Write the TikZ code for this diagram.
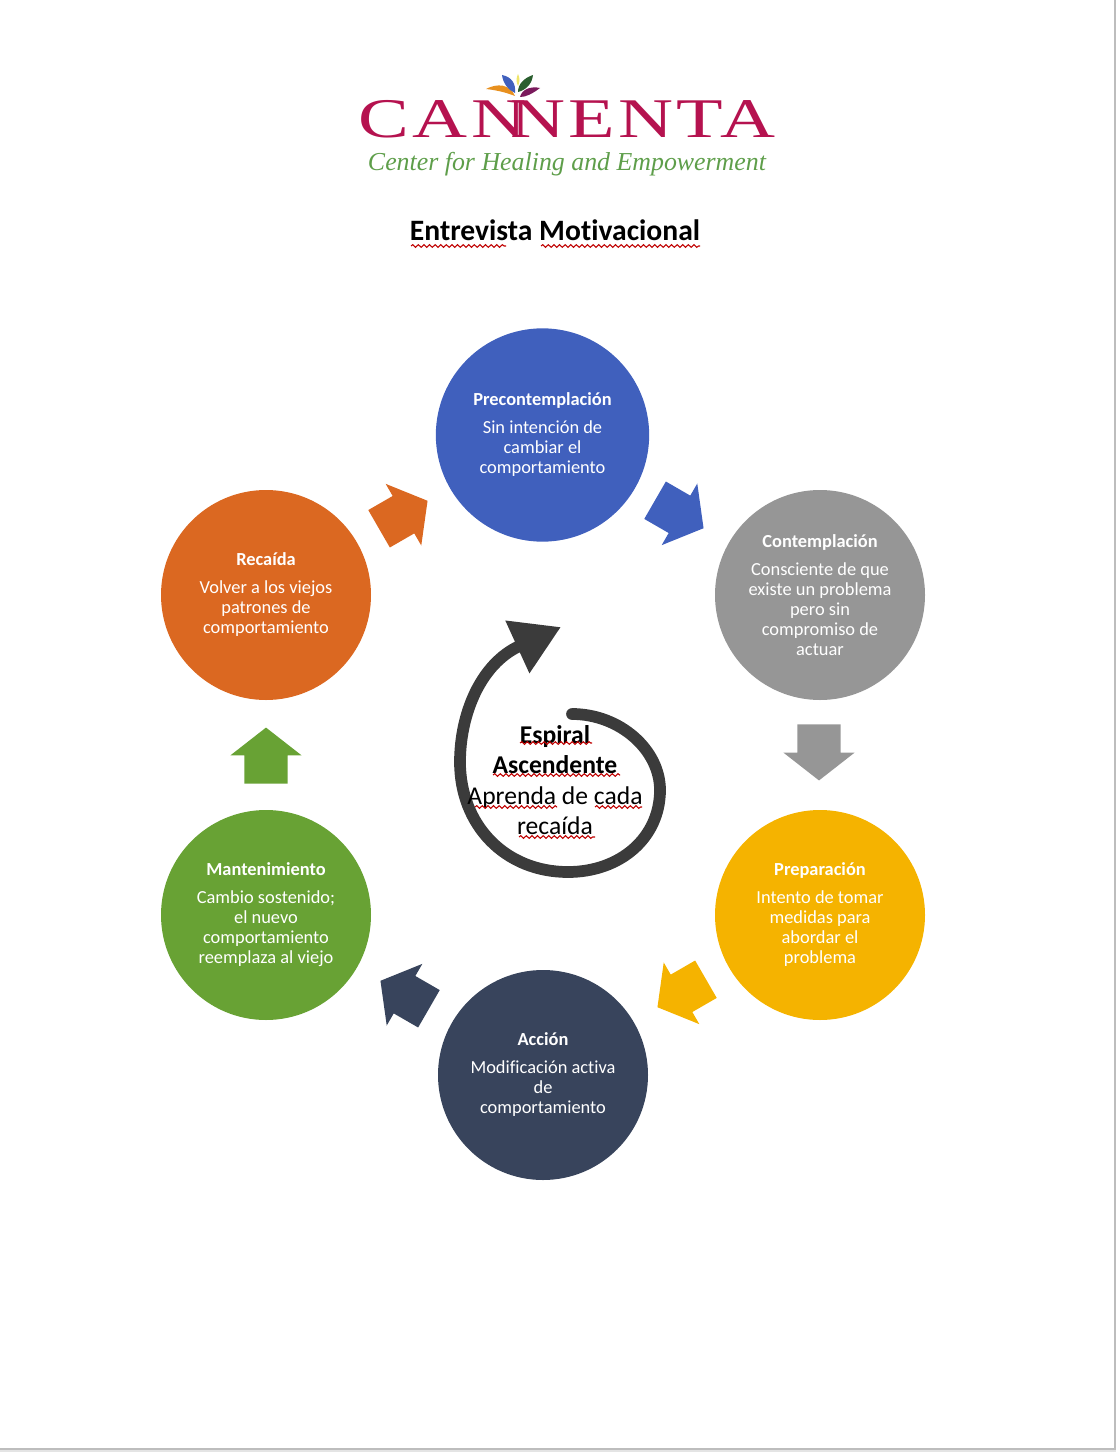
\documentclass[tikz,border=0pt]{standalone}
\usepackage{fontspec}
\usepackage{xcolor}
\usepackage{tikz}
\usetikzlibrary{shapes.arrows,arrows.meta,decorations.pathmorphing}
\setmainfont[RawFeature={-liga}]{Carlito}
\newfontfamily\logofont[FakeStretch=1.36,LetterSpace=6]{Liberation Serif}
\newfontfamily\tagfont{Liberation Serif}
\definecolor{crimson}{HTML}{B5124F}
\definecolor{leafgreen}{HTML}{5E9E4A}
\definecolor{stageblue}{HTML}{4060BD}
\definecolor{stagegray}{HTML}{969696}
\definecolor{stageyellow}{HTML}{F5B300}
\definecolor{stagenavy}{HTML}{38445C}
\definecolor{stagegreen}{HTML}{68A234}
\definecolor{stageorange}{HTML}{DB6821}
\definecolor{spiraldark}{HTML}{3B3B3B}
\definecolor{pageedge}{HTML}{BDBDBD}
\definecolor{petalorange}{HTML}{E8901E}
\definecolor{petalyellow}{HTML}{EFE56A}
\definecolor{petalgreen}{HTML}{2A5E2E}
\definecolor{petalpurple}{HTML}{7A1A5C}
\tikzset{
  stage/.style={circle,minimum size=157.5pt,inner sep=0pt,text=white,align=center,
    font=\fontsize{13.8pt}{15pt}\selectfont},
  blockarr/.style={single arrow,minimum width=53pt,minimum height=42pt,
    inner xsep=0pt,inner ysep=16pt,
    single arrow head extend=10.5pt,single arrow tip angle=104},
  squig/.style={draw=red!75!black,line width=0.8pt,
    decorate,decoration={snake,amplitude=1pt,segment length=4.2pt}},
}
\begin{document}
\begin{tikzpicture}[x=0.75pt,y=-0.75pt]
\useasboundingbox (0,0) rectangle (1116,1452);
\fill[pageedge] (1114,0) rectangle (1116,1452);
\fill[pageedge] (0,1448) rectangle (1116,1450);
\fill[pageedge!40] (0,1450) rectangle (1116,1452);

% logo
\fill[petalorange] (486,89) .. controls (497,83) and (510,84) .. (515,96) .. controls (505,92) and (495,90) .. (486,89) -- cycle;
\fill[stageblue] (502,75) .. controls (512,77) and (516,84) .. (515,93) .. controls (508,90) and (503,83) .. (502,75) -- cycle;
\fill[petalyellow] (518,74) .. controls (520,78) and (520,82) .. (518,86) .. controls (516,82) and (516,78) .. (518,74) -- cycle;
\fill[petalgreen] (533,75) .. controls (532,84) and (526,90) .. (518,92) .. controls (518,84) and (524,78) .. (533,75) -- cycle;
\fill[petalpurple] (540,88) .. controls (532,94) and (526,97) .. (520,97) .. controls (522,89) and (531,86) .. (540,88) -- cycle;
\node[text=crimson,inner sep=0pt] (logo) at (567,119) {\logofont\fontsize{42pt}{42pt}\selectfont CAN\kern-12ptNENTA};
\node[text=leafgreen,inner sep=0pt] (tagline) at (567,164) {\tagfont\itshape\fontsize{19.4pt}{24pt}\selectfont Center for Healing and Empowerment};
\node[inner sep=0pt] (title) at (555,230) {\fontsize{22.2pt}{26pt}\selectfont\bfseries Entrevista Motivacional};
\draw[squig] (411,246) -- (506,246);
\draw[squig] (541,246) -- (700,246);

% stages
\node[stage,fill=stageblue,minimum size=160pt] (pre) at (542.5,435)
  {{\bfseries Precontemplación}\\[6pt]Sin intención de\\cambiar el\\comportamiento};
\node[stage,fill=stagegray] (con) at (820,595)
  {{\bfseries Contemplación}\\[6pt]Consciente de que\\existe un problema\\pero sin\\compromiso de\\actuar};
\node[stage,fill=stageyellow] (prep) at (820,915)
  {{\bfseries Preparación}\\[6pt]Intento de tomar\\medidas para\\abordar el\\problema};
\node[stage,fill=stagenavy] (acc) at (543,1075)
  {{\bfseries Acción}\\[6pt]Modificación activa\\de\\comportamiento};
\node[stage,fill=stagegreen] (man) at (266,915)
  {{\bfseries Mantenimiento}\\[6pt]Cambio sostenido;\\el nuevo\\comportamiento\\reemplaza al viejo};
\node[stage,fill=stageorange] (rec) at (266,595)
  {{\bfseries Recaída}\\[6pt]Volver a los viejos\\patrones de\\comportamiento};

% block arrows
\node[blockarr,fill=stageblue,rotate=-30] (a1) at (672,510) {};
\node[blockarr,fill=stagegray,rotate=-90] (a2) at (819,744) {};
\node[blockarr,fill=stageyellow,rotate=210] (a3) at (689,989) {};
\node[blockarr,fill=stagenavy,rotate=150] (a4) at (412,999) {};
\node[blockarr,fill=stagegreen,rotate=90] (a5) at (266,764) {};
\node[blockarr,fill=stageorange,rotate=30] (a6) at (396,519) {};

% spiral
\coordinate (spstart) at (572,714);
\coordinate (sptip) at (561,627);
\draw[spiraldark,line width=8.8pt,line cap=round,-{Triangle[length=36pt,width=41pt]}]
  (spstart) .. controls (620,714) and (660,750) .. (660,790)
  .. controls (660,838) and (620,872) .. (568,872)
  .. controls (505,872) and (460,825) .. (460,762)
  .. controls (460,715) and (480,664) .. (sptip);

\node[align=center,inner sep=0pt,font=\fontsize{19.2pt}{22.7pt}\selectfont] (spiraltxt) at (555,780)
  {{\bfseries Espiral}\\{\bfseries Ascendente}\\Aprenda de cada\\recaída};
\draw[squig] (520,743) -- (592,743);
\draw[squig] (493,775) -- (620,775);
\draw[squig] (475,807) -- (557,807);
\draw[squig] (595,807) -- (642,807);
\draw[squig] (519,837) -- (595,837);
\end{tikzpicture}
\end{document}
